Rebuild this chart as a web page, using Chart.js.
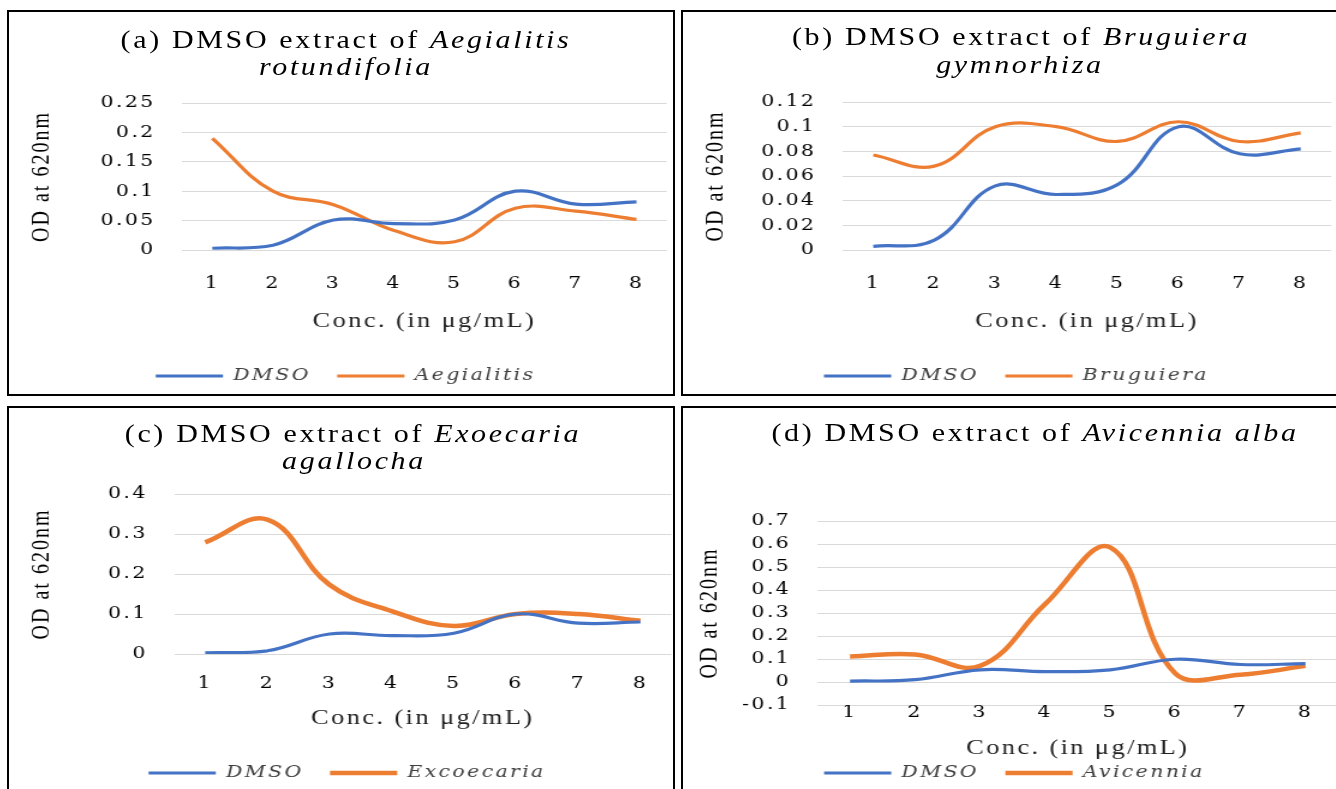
<!DOCTYPE html>
<html><head><meta charset="utf-8">
<script src="https://cdn.jsdelivr.net/npm/chart.js@4"></script>
<style>
html,body{margin:0;padding:0;background:#fff;overflow:hidden;width:1336px;height:789px;}
.panel{position:absolute;border:2px solid #000;box-sizing:border-box;background:#fff;overflow:visible;}
.panel canvas{position:absolute;left:0;top:0;}
.ttl{position:absolute;font-family:"Liberation Serif",serif;font-size:25px;line-height:28px;white-space:nowrap;color:#000;letter-spacing:2.2px;transform:translateX(-50%) scaleX(1.2);}
</style></head>
<body>
<div class="panel" style="left:7px;top:10px;width:668px;height:386px;"><canvas id="cA" width="553" height="382" style="width:663.6px;height:382px;"></canvas></div>
<div class="panel" style="left:681px;top:10px;width:700px;height:386px;"><canvas id="cB" width="545" height="382" style="width:654px;height:382px;"></canvas></div>
<div class="panel" style="left:7px;top:406px;width:668px;height:400px;"><canvas id="cC" width="553" height="383" style="width:663.6px;height:383px;"></canvas></div>
<div class="panel" style="left:681px;top:406px;width:700px;height:400px;"><canvas id="cD" width="546" height="383" style="width:655.2px;height:383px;"></canvas></div>

<div class="ttl" style="left:346px;top:26px;">(a) DMSO extract of <i>Aegialitis</i></div>
<div class="ttl" style="left:346px;top:53px;"><i>rotundifolia</i></div>
<div class="ttl" style="left:1021px;top:23px;">(b) DMSO extract of <i>Bruguiera</i></div>
<div class="ttl" style="left:1020px;top:51px;"><i>gymnorhiza</i></div>
<div class="ttl" style="left:353px;top:420px;">(c) DMSO extract of <i>Exoecaria</i></div>
<div class="ttl" style="left:354px;top:447px;"><i>agallocha</i></div>
<div class="ttl" style="left:1035px;top:419px;">(d) DMSO extract of <i>Avicennia alba</i></div>

<script>
const concLabels = ['1','2','3','4','5','6','7','8'];

const dmsoA      = [0.003, 0.008, 0.051, 0.045, 0.051, 0.100, 0.078, 0.082];
const aegialitis = [0.190, 0.100, 0.077, 0.033, 0.014, 0.071, 0.066, 0.052];
const yTicksA    = [0, 0.05, 0.1, 0.15, 0.2, 0.25];

const dmsoB      = [0.003, 0.008, 0.052, 0.045, 0.053, 0.100, 0.078, 0.082];
const bruguiera  = [0.077, 0.068, 0.100, 0.100, 0.088, 0.104, 0.088, 0.095];
const yTicksB    = [0, 0.02, 0.04, 0.06, 0.08, 0.1, 0.12];

const dmsoC      = [0.003, 0.008, 0.050, 0.046, 0.052, 0.100, 0.077, 0.080];
const excoecaria = [0.279, 0.336, 0.173, 0.107, 0.070, 0.100, 0.100, 0.083];
const yTicksC    = [0, 0.1, 0.2, 0.3, 0.4];

const dmsoD      = [0.004, 0.010, 0.053, 0.045, 0.053, 0.099, 0.076, 0.080];
const avicennia  = [0.111, 0.120, 0.070, 0.339, 0.585, 0.037, 0.032, 0.070];
const yTicksD    = [-0.1, 0, 0.1, 0.2, 0.3, 0.4, 0.5, 0.6, 0.7];

const BLUE = '#4472C4', ORANGE = '#ED7D31';

const spacingPlugin = {
  id: 'spacing',
  afterInit(chart) { chart.ctx.letterSpacing = '2px'; },
  beforeUpdate(chart) { chart.ctx.letterSpacing = '2px'; },
  beforeDraw(chart) { chart.ctx.letterSpacing = '2px'; }
};

function makeChart(id, cfg) {
  new Chart(document.getElementById(id), {
    type: 'line',
    data: {
      labels: concLabels,
      datasets: [
        {label: 'DMSO', data: cfg.dmso, borderColor: BLUE, backgroundColor: BLUE, borderWidth: 3.2, pointRadius: 0, tension: 0.4, fill: false},
        {label: cfg.name, data: cfg.series, borderColor: ORANGE, backgroundColor: ORANGE, borderWidth: cfg.ow, pointRadius: 0, tension: 0.4, fill: false}
      ]
    },
    options: {
      responsive: false,
      animation: false,
      events: [],
      layout: {padding: {left: cfg.padL, right: cfg.padR, top: cfg.padT, bottom: cfg.padB}},
      plugins: {
        legend: {
          position: 'bottom',
          labels: {
            usePointStyle: true, pointStyle: 'line', pointStyleWidth: 56,
            padding: 22, color: '#404040',
            font: {family: 'DejaVu Serif', style: 'italic', size: 17}
          }
        },
        title: {display: false},
        tooltip: {enabled: false}
      },
      scales: {
        x: {
          offset: true,
          grid: {display: false, drawTicks: false},
          border: {display: false},
          ticks: {autoSkip: false, color: '#000', padding: cfg.xTickPad, font: {family: 'DejaVu Serif', size: 17}, maxRotation: 0},
          title: {display: true, text: 'Conc. (in μg/mL)', color: '#222', font: {family: 'Liberation Serif', size: 22}, padding: {top: 4, bottom: cfg.xTitlePB}},
          afterFit: (s) => { s.height = cfg.hX; }
        },
        y: {
          min: cfg.ticks[0], max: cfg.ticks[cfg.ticks.length - 1],
          grid: {color: '#d9d9d9', lineWidth: 1, drawTicks: false},
          border: {display: false},
          afterBuildTicks: (s) => { s.ticks = cfg.ticks.map(v => ({value: v})); },
          ticks: {autoSkip: false, color: '#000', padding: 22, font: {family: 'DejaVu Serif', size: 17}, callback: (v) => String(v)},
          title: {display: true, text: 'OD at 620nm', color: '#000', font: {family: 'Liberation Serif', size: 20}, padding: {top: 4, bottom: 4}},
          afterFit: (s) => { s.width = cfg.wY; }
        }
      }
    },
    plugins: [spacingPlugin]
  });
}

makeChart('cA', {dmso: dmsoA, series: aegialitis, name: 'Aegialitis', ow: 3.2, ticks: yTicksA,
  padL: 11.5, wY: 132.6, padT: 91, padR: 3.8, padB: -0.5, hX: 95.5, xTickPad: 23.8, xTitlePB: 11.3});
makeChart('cB', {dmso: dmsoB, series: bruguiera, name: 'Bruguiera', ow: 3.2, ticks: yTicksB,
  padL: 11.5, wY: 121.6, padT: 90, padR: 0.8, padB: -0.5, hX: 95.5, xTickPad: 23.8, xTitlePB: 11.3});
makeChart('cC', {dmso: dmsoC, series: excoecaria, name: 'Excoecaria', ow: 4.5, ticks: yTicksC,
  padL: 11.5, wY: 126, padT: 86, padR: 1.3, padB: -0.5, hX: 88.5, xTickPad: 19.8, xTitlePB: 11.3});
makeChart('cD', {dmso: dmsoD, series: avicennia, name: 'Avicennia', ow: 4.5, ticks: yTicksD,
  padL: 6.5, wY: 105.6, padT: 113, padR: 0, padB: -0.5, hX: 37.5, xTickPad: -2.2, xTitlePB: -18.7});
</script>
</body></html>
